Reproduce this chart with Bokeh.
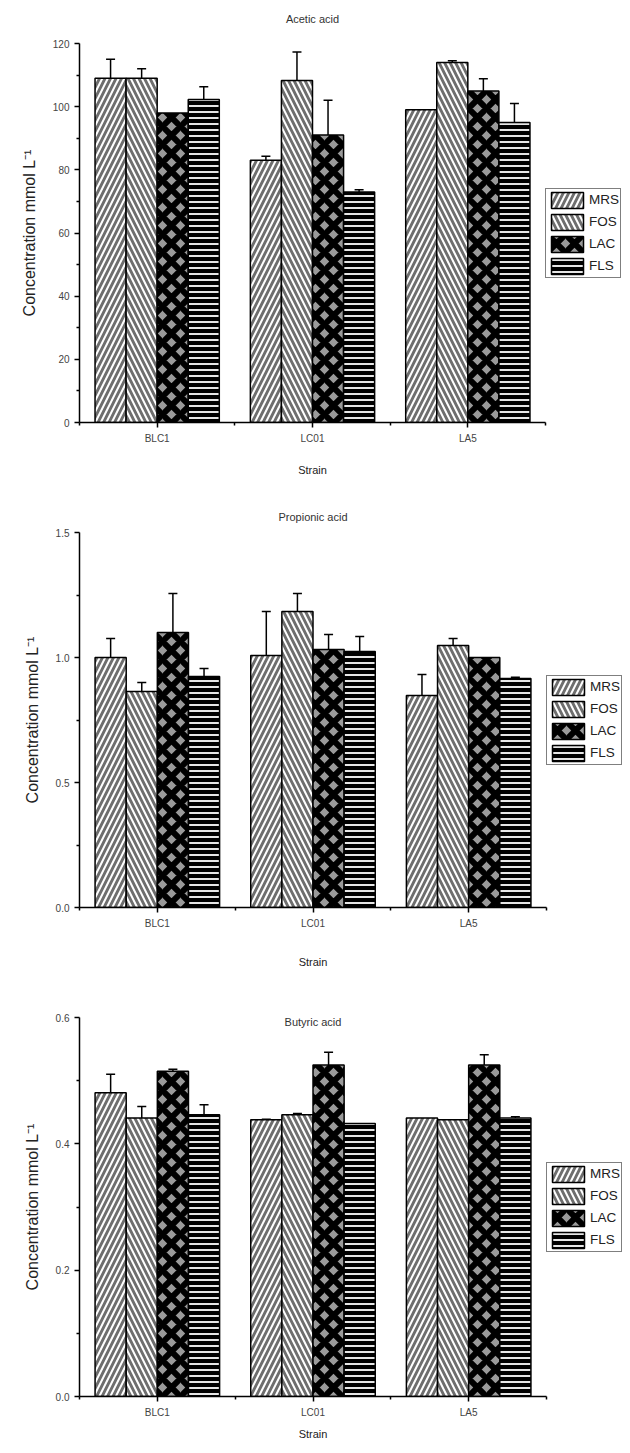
from bokeh.plotting import figure
from bokeh.layouts import column
from bokeh.models import (ColumnDataSource, FixedTicker, Legend, LegendItem,
                          Whisker, TeeHead, Label)
from bokeh.embed import file_html
from bokeh.resources import INLINE

# ---------------- data ----------------
strains = ["BLC1", "LC01", "LA5"]
media = ["MRS", "FOS", "LAC", "FLS"]

acetic_MRS = [109.0, 83.0, 99.0]
acetic_FOS = [109.0, 108.3, 114.0]
acetic_LAC = [98.0, 91.0, 105.0]
acetic_FLS = [102.3, 73.0, 95.0]
acetic_err_MRS = [6.0, 1.3, 0.0]
acetic_err_FOS = [3.0, 9.0, 0.5]
acetic_err_LAC = [0.0, 11.0, 3.8]
acetic_err_FLS = [4.0, 0.7, 6.0]

propionic_MRS = [1.0, 1.008, 0.848]
propionic_FOS = [0.864, 1.184, 1.048]
propionic_LAC = [1.1, 1.032, 1.0]
propionic_FLS = [0.924, 1.024, 0.916]
propionic_err_MRS = [0.076, 0.176, 0.084]
propionic_err_FOS = [0.036, 0.072, 0.028]
propionic_err_LAC = [0.156, 0.06, 0.0]
propionic_err_FLS = [0.032, 0.06, 0.005]

butyric_MRS = [0.481, 0.438, 0.441]
butyric_FOS = [0.441, 0.446, 0.438]
butyric_LAC = [0.515, 0.525, 0.525]
butyric_FLS = [0.446, 0.432, 0.441]
butyric_err_MRS = [0.029, 0.001, 0.0]
butyric_err_FOS = [0.018, 0.002, 0.0]
butyric_err_LAC = [0.003, 0.02, 0.016]
butyric_err_FLS = [0.016, 0.0, 0.002]

acetic_ticks = [0, 20, 40, 60, 80, 100, 120]
acetic_labels = ["0", "20", "40", "60", "80", "100", "120"]
acetic_minor = [10, 30, 50, 70, 90, 110]
propionic_ticks = [0.0, 0.5, 1.0, 1.5]
propionic_labels = ["0.0", "0.5", "1.0", "1.5"]
propionic_minor = [0.25, 0.75, 1.25]
butyric_ticks = [0.0, 0.2, 0.4, 0.6]
butyric_labels = ["0.0", "0.2", "0.4", "0.6"]
butyric_minor = [0.1, 0.3, 0.5]

# ---------------- styles ----------------
FONT = "Liberation Sans"
offsets = [-0.3, -0.1, 0.1, 0.3]
styles = {
    "MRS": dict(fill_color="#6e6e6e", hatch_pattern="/", hatch_color="white",
                hatch_scale=11, hatch_weight=2),
    "FOS": dict(fill_color="#6e6e6e", hatch_pattern="\\", hatch_color="white",
                hatch_scale=11, hatch_weight=2),
    "LAC": dict(fill_color="#9a9a9a", hatch_pattern="x", hatch_color="black",
                hatch_scale=18, hatch_weight=6),
    "FLS": dict(fill_color="black", hatch_pattern="-", hatch_color="#e6e6e6",
                hatch_scale=6, hatch_weight=2),
}


def make_chart(title, vals, errs, ymax, ticks, labels, minor,
               fw, fh, ml, mt, mb, title_inside, title_pad, xlabel_standoff):
    p = figure(x_range=(0.5, 3.5), y_range=(0, ymax),
               frame_width=fw, frame_height=fh,
               min_border_left=ml, min_border_right=0,
               min_border_top=mt, min_border_bottom=mb,
               output_backend="svg", toolbar_location=None, tools="")
    p.outline_line_color = None
    p.xgrid.visible = False
    p.ygrid.visible = False
    p.background_fill_color = "white"
    p.border_fill_color = "white"

    items = []
    for k, m in enumerate(media):
        xs = [i + 1 + offsets[k] for i in range(len(strains))]
        src = ColumnDataSource(dict(x=xs, top=vals[m]))
        r = p.vbar(x="x", top="top", width=0.2, bottom=0, source=src,
                   line_color="black", line_width=1.5, **styles[m])
        items.append(LegendItem(label=m, renderers=[r]))
        ex, elo, ehi = [], [], []
        for x, t, e in zip(xs, vals[m], errs[m]):
            if e > 0:
                ex.append(x)
                elo.append(t)
                ehi.append(t + e)
        wsrc = ColumnDataSource(dict(x=ex, lower=elo, upper=ehi))
        wk = Whisker(base="x", lower="lower", upper="upper", source=wsrc,
                     line_color="black", line_width=1.5,
                     lower_head=None,
                     upper_head=TeeHead(size=9, line_color="black", line_width=1.5))
        p.add_layout(wk)

    # axes
    p.xaxis.ticker = FixedTicker(ticks=[1, 2, 3], minor_ticks=[0.5, 1.5, 2.5, 3.5])
    p.xaxis.major_label_overrides = {i + 1: s for i, s in enumerate(strains)}
    p.yaxis.ticker = FixedTicker(ticks=ticks, minor_ticks=minor)
    p.yaxis.major_label_overrides = {t: l for t, l in zip(ticks, labels)}
    for ax in (p.xaxis[0], p.yaxis[0]):
        ax.axis_line_color = "black"
        ax.axis_line_width = 1.5
        ax.major_tick_line_color = "black"
        ax.major_tick_line_width = 1.5
        ax.minor_tick_line_color = "black"
        ax.minor_tick_line_width = 1.5
        ax.major_tick_in = 0
        ax.major_tick_out = 5
        ax.minor_tick_in = 0
        ax.minor_tick_out = 3
        ax.major_label_text_font = FONT
        ax.major_label_text_font_size = "10px"
        ax.major_label_text_color = "#444444"
        ax.axis_label_text_font = FONT
        ax.axis_label_text_font_style = "normal"
        ax.axis_label_text_color = "#222222"
    p.xaxis.axis_label = "Strain"
    p.xaxis.axis_label_text_font_size = "11px"
    p.xaxis.axis_label_standoff = xlabel_standoff
    p.yaxis.axis_label = "Concentration mmol L\u207b\u00b9"
    p.yaxis.axis_label_text_font_size = "16px"
    p.yaxis.axis_label_standoff = 12

    if title_inside:
        p.add_layout(Label(x=2.0, y=ymax, text=title, text_align="center",
                           text_baseline="middle", y_offset=-4,
                           text_font=FONT, text_font_size="11px",
                           text_color="#333333"))
    else:
        p.title.text = title
        p.title.align = "center"
        p.title.text_font = FONT
        p.title.text_font_size = "11px"
        p.title.text_font_style = "normal"
        p.title.text_color = "#333333"
        if title_pad:
            try:
                p.title.padding = dict(left=0, right=0, top=0, bottom=title_pad[0])
            except Exception:
                p.title.padding = title_pad[1]

    legend = Legend(items=items, location="center_left",
                    border_line_color="black", border_line_width=1.5,
                    padding=1, spacing=2, margin=0,
                    glyph_width=40, glyph_height=20, label_standoff=2,
                    label_text_font=FONT, label_text_font_size="13.5px",
                    label_text_color="#222222", label_height=20,
                    background_fill_color="white")
    p.add_layout(legend, "right")
    return p


p1 = make_chart("Acetic acid",
                {"MRS": acetic_MRS, "FOS": acetic_FOS, "LAC": acetic_LAC, "FLS": acetic_FLS},
                {"MRS": acetic_err_MRS, "FOS": acetic_err_FOS, "LAC": acetic_err_LAC, "FLS": acetic_err_FLS},
                120, acetic_ticks, acetic_labels, acetic_minor,
                fw=466, fh=379, ml=79, mt=43, mb=75, title_inside=False,
                title_pad=(14, 10), xlabel_standoff=17)
p2 = make_chart("Propionic acid",
                {"MRS": propionic_MRS, "FOS": propionic_FOS, "LAC": propionic_LAC, "FLS": propionic_FLS},
                {"MRS": propionic_err_MRS, "FOS": propionic_err_FOS, "LAC": propionic_err_LAC, "FLS": propionic_err_FLS},
                1.5, propionic_ticks, propionic_labels, propionic_minor,
                fw=467, fh=375, ml=78, mt=35, mb=75, title_inside=False,
                title_pad=(5, 3), xlabel_standoff=24)
p3 = make_chart("Butyric acid",
                {"MRS": butyric_MRS, "FOS": butyric_FOS, "LAC": butyric_LAC, "FLS": butyric_FLS},
                {"MRS": butyric_err_MRS, "FOS": butyric_err_FOS, "LAC": butyric_err_LAC, "FLS": butyric_err_FLS},
                0.6, butyric_ticks, butyric_labels, butyric_minor,
                fw=467, fh=379, ml=73, mt=35, mb=49, title_inside=True,
                title_pad=None, xlabel_standoff=7)

layout = column(p1, p2, p3, spacing=0)
open("out.html", "w").write(file_html(layout, INLINE))
